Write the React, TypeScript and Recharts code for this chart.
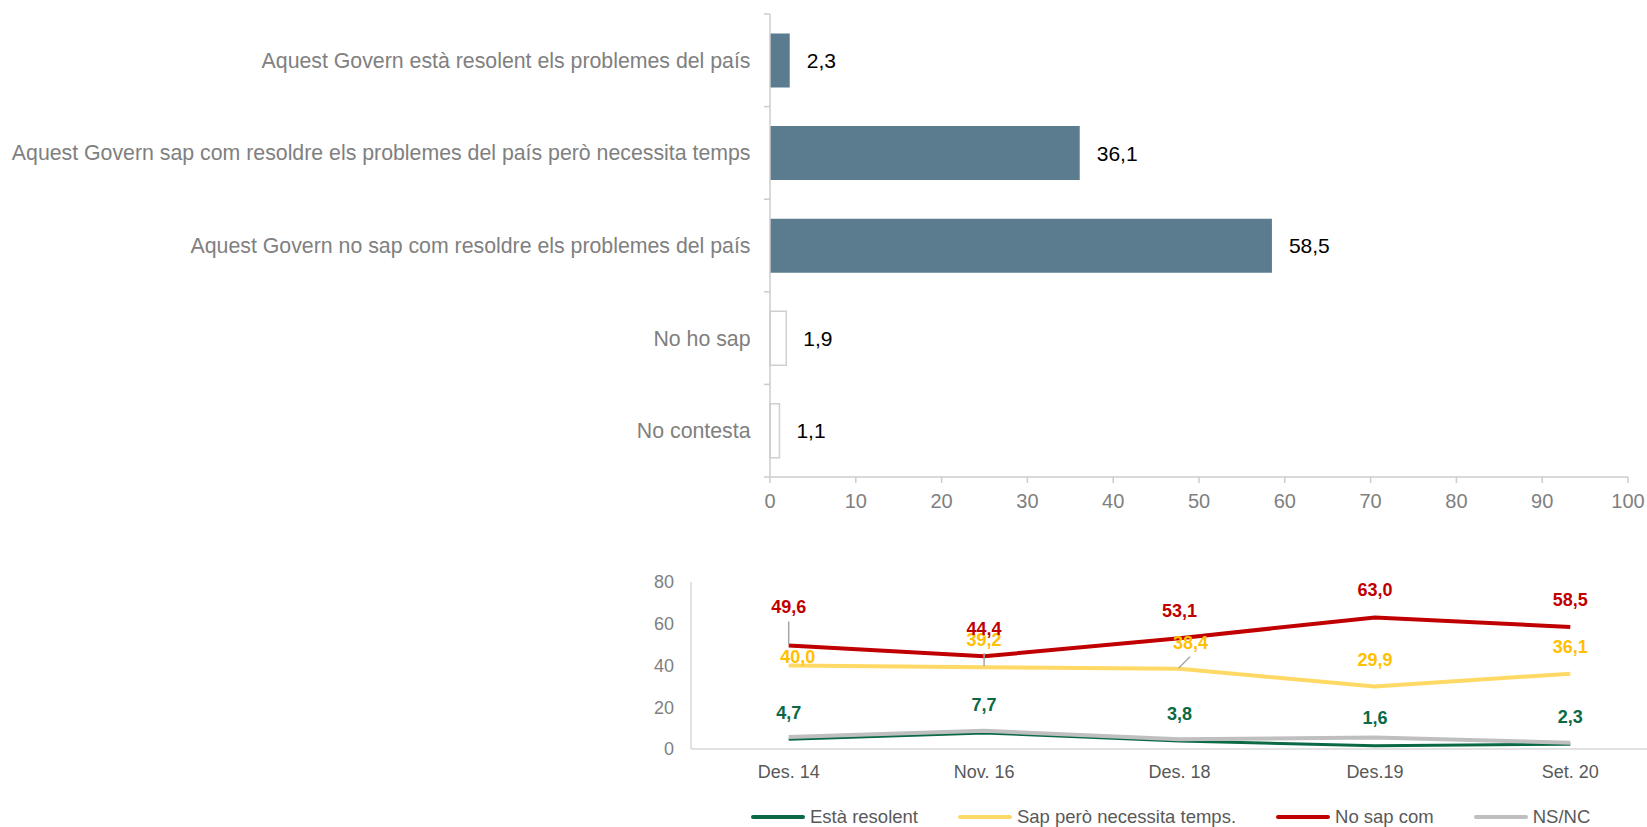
import React from 'react';
import { BarChart, Bar, XAxis, YAxis, Cell, LabelList, LineChart, Line } from 'recharts';

// ---------- Data: top bar chart ----------
const barCategories = [
  'Aquest Govern està resolent els problemes del país',
  'Aquest Govern sap com resoldre els problemes del país però necessita temps',
  'Aquest Govern no sap com resoldre els problemes del país',
  'No ho sap',
  'No contesta',
];
const barValues = [2.3, 36.1, 58.5, 1.9, 1.1];
const barHollow = [false, false, false, true, true];
const barTicks = [0, 10, 20, 30, 40, 50, 60, 70, 80, 90, 100];

// ---------- Data: bottom line chart ----------
const periods = ['Des. 14', 'Nov. 16', 'Des. 18', 'Des.19', 'Set. 20'];
const estaResolent = [4.7, 7.7, 3.8, 1.6, 2.3];
const sapPeroNecessita = [40.0, 39.2, 38.4, 29.9, 36.1];
const noSapCom = [49.6, 44.4, 53.1, 63.0, 58.5];
const nsNc = [5.7, 8.7, 4.7, 5.5, 3.0];
const seriesNames = ['Està resolent', 'Sap però necessita temps.', 'No sap com', 'NS/NC'];
const lineTicks = [0, 20, 40, 60, 80];

// ---------- Styles ----------
const FONT = '"Liberation Sans", Arial, Helvetica, sans-serif';
const AXIS = '#cccccc';
const BAR_FILL = '#5b7c8f';
const seriesKeys = ['esta', 'sap', 'nosap', 'nsnc'];
const lineColors = ['#0b6a45', '#ffd966', '#c00000', '#bfbfbf'];
const labelColors = ['#0b6a45', '#ffc000', '#c00000', '#bfbfbf'];
const lineWidths = [3, 4, 4, 4];

// label placement offsets (dx, dy) relative to each point, per series
const labelShift: number[][][] = [
  [[0, -27], [0, -28], [0, -27], [0, -28], [0, -28]],
  [[9, -9], [0, -28], [11, -26], [0, -27], [0, -27]],
  [[0, -39], [0, -28], [0, -28], [0, -28], [0, -27]],
];
// leader lines [x1, y1, x2, y2] relative to point
const leaders: (number[] | null)[][] = [
  [null, null, null, null, null],
  [null, [0, -14, 0, -1], [10.5, -12, -1, -0.5], null, null],
  [[0, -24, 0, -1], null, null, null, null],
];

const fmt = (v: number) => v.toFixed(1).replace('.', ',');

const barData = barCategories.map((name, i) => ({ name, value: barValues[i] }));
const lineData = periods.map((p, i) => ({
  period: p,
  esta: estaResolent[i],
  sap: sapPeroNecessita[i],
  nosap: noSapCom[i],
  nsnc: nsNc[i],
}));

const BAR_TOP = 14;
const BAR_PLOT_H = 463;
const BAND = BAR_PLOT_H / barCategories.length;

const CategoryTick = (props: any) => {
  const { x, y, payload, index } = props;
  const half = BAND / 2;
  return (
    <g>
      <line x1={x - 6} x2={x} y1={y - half} y2={y - half} stroke={AXIS} strokeWidth={1.5} />
      {index === barCategories.length - 1 && (
        <line x1={x - 6} x2={x} y1={y + half} y2={y + half} stroke={AXIS} strokeWidth={1.5} />
      )}
      <text x={x - 19.5} y={y} dy="0.355em" textAnchor="end" fill="#808080" fontSize={21.3} fontFamily={FONT}>
        {payload.value}
      </text>
    </g>
  );
};

const makeLineLabel = (s: number) => (props: any) => {
  const { x, y, value, index } = props;
  if (x == null || y == null) return null;
  const [dx, dy] = labelShift[s][index];
  const ld = leaders[s][index];
  return (
    <g key={`lbl-${s}-${index}`}>
      {ld && (
        <line x1={x + ld[0]} y1={y + ld[1]} x2={x + ld[2]} y2={y + ld[3]} stroke="#a6a6a6" strokeWidth={1.5} />
      )}
      <text
        x={x + dx}
        y={y + dy}
        dy="0.355em"
        textAnchor="middle"
        fill={labelColors[s]}
        fontSize={18}
        fontWeight="bold"
        fontFamily={FONT}
      >
        {fmt(value)}
      </text>
    </g>
  );
};

export default function App() {
  return (
    <div
      style={{
        position: 'fixed',
        left: 0,
        top: 0,
        width: 1647,
        height: 827,
        overflow: 'hidden',
        background: '#ffffff',
        fontFamily: FONT,
      }}
    >
      <div style={{ position: 'absolute', left: 0, top: 0 }}>
        <BarChart
          width={1647}
          height={520}
          layout="vertical"
          data={barData}
          margin={{ top: BAR_TOP, right: 19, left: 0, bottom: 0 }}
          barCategoryGap="21%"
        >
          <XAxis
            type="number"
            domain={[0, 100]}
            ticks={barTicks}
            interval={0}
            height={43}
            tickSize={6}
            tickMargin={11}
            axisLine={{ stroke: AXIS, strokeWidth: 1.5 }}
            tickLine={{ stroke: AXIS, strokeWidth: 1.5 }}
            tick={{ fill: '#808080', fontSize: 20, fontFamily: FONT }}
          />
          <YAxis
            type="category"
            dataKey="name"
            width={770}
            interval={0}
            tickSize={0}
            tickMargin={0}
            tickLine={false}
            axisLine={{ stroke: AXIS, strokeWidth: 1.5 }}
            tick={<CategoryTick />}
          />
          <Bar dataKey="value" isAnimationActive={false}>
            {barData.map((d, i) => (
              <Cell
                key={d.name}
                fill={barHollow[i] ? '#ffffff' : BAR_FILL}
                stroke={barHollow[i] ? '#d0d0d0' : 'none'}
                strokeWidth={barHollow[i] ? 1.5 : 0}
              />
            ))}
            <LabelList
              dataKey="value"
              position="right"
              offset={17}
              formatter={(v: any) => fmt(Number(v))}
              style={{ fill: '#000000', fontSize: 21, fontFamily: FONT }}
            />
          </Bar>
        </BarChart>
      </div>

      <div style={{ position: 'absolute', left: 0, top: 540 }}>
        <LineChart
          width={1668}
          height={260}
          data={lineData}
          margin={{ top: 42, right: 0, left: 0, bottom: 11 }}
        >
          <XAxis
            dataKey="period"
            type="category"
            height={40}
            padding={{ left: 97.7, right: 97.7 }}
            tickSize={0}
            tickMargin={16}
            tickLine={false}
            axisLine={{ stroke: '#d9d9d9', strokeWidth: 1.5 }}
            tick={{ fill: '#595959', fontSize: 18, fontFamily: FONT }}
            interval={0}
          />
          <YAxis
            type="number"
            domain={[0, 80]}
            ticks={lineTicks}
            width={691}
            tickSize={0}
            tickMargin={17}
            tickLine={false}
            axisLine={{ stroke: '#d9d9d9', strokeWidth: 1.5 }}
            tick={{ fill: '#808080', fontSize: 18, fontFamily: FONT }}
          />
          {seriesKeys.map((k, s) => (
            <Line
              key={k}
              dataKey={k}
              name={seriesNames[s]}
              type="linear"
              stroke={lineColors[s]}
              strokeWidth={lineWidths[s]}
              dot={false}
              activeDot={false}
              isAnimationActive={false}
              label={s < 3 ? makeLineLabel(s) : false}
            />
          ))}
        </LineChart>
      </div>

      <div
        style={{
          position: 'absolute',
          left: 751,
          top: 805,
          display: 'flex',
          alignItems: 'center',
          gap: 40,
          fontSize: 18.5,
          color: '#595959',
          lineHeight: '24px',
          whiteSpace: 'nowrap',
        }}
      >
        {seriesNames.map((n, s) => (
          <div key={n} style={{ display: 'flex', alignItems: 'center' }}>
            <div
              style={{
                width: 54,
                height: 4,
                borderRadius: 2,
                background: lineColors[s],
                marginRight: 5,
              }}
            />
            <span>{n}</span>
          </div>
        ))}
      </div>
    </div>
  );
}
